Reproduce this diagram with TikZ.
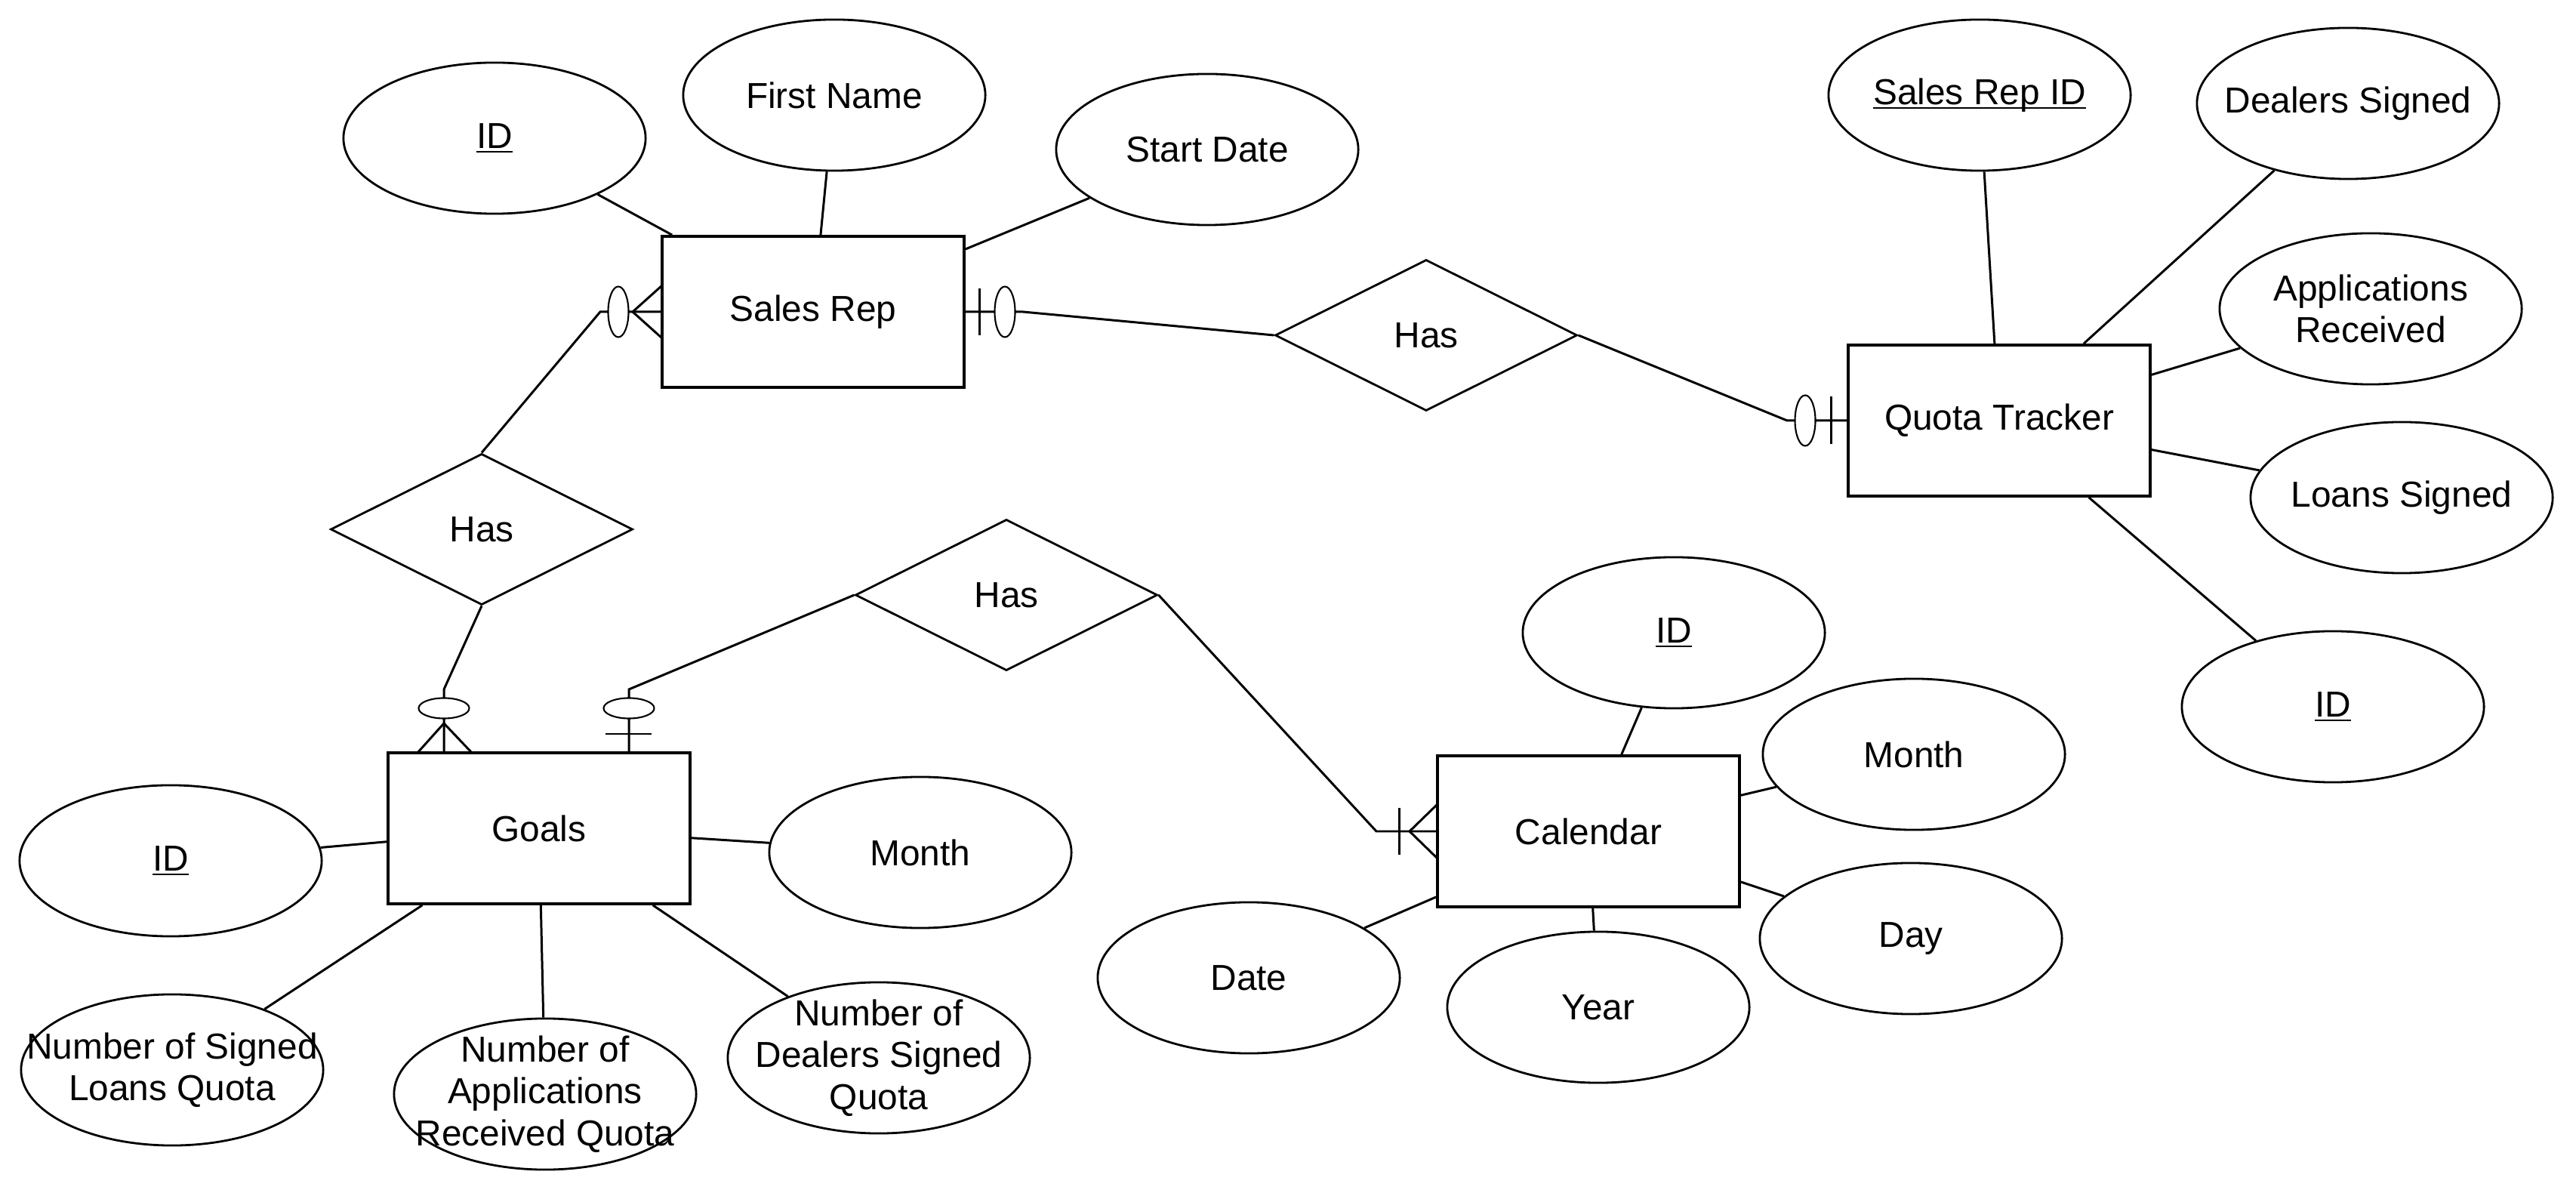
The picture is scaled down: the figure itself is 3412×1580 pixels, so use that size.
\documentclass[tikz,border=0pt]{standalone}
\usepackage{fontspec}
\setmainfont{Liberation Sans}
\usetikzlibrary{shapes.geometric}
\newcommand\ulkey[1]{{\setbox0\hbox{#1}\rlap{\rule[-1.7pt]{\wd0}{0.6pt}}\box0}}
\begin{document}
\begin{tikzpicture}[x=0.01cm,y=-0.01cm,
  font=\fontsize{13.6}{15.8}\selectfont,
  ent/.style={draw,line width=1pt,minimum width=4cm,minimum height=2cm,inner sep=0},
  attr/.style={draw,ellipse,line width=0.8pt,minimum width=4cm,minimum height=2cm,inner sep=-1cm,align=center},
  rel/.style={draw,diamond,line width=0.8pt,minimum width=4cm,minimum height=2cm,inner sep=0,aspect=2},
  conn/.style={line width=0.85pt},
  mk/.style={line width=0.85pt},
  optv/.style={draw,ellipse,fill=white,line width=0.6pt,inner sep=0,minimum width=0.27cm,minimum height=0.67cm},
  opth/.style={draw,ellipse,fill=white,line width=0.6pt,inner sep=0,minimum width=0.67cm,minimum height=0.27cm}
]
\useasboundingbox (0,0) rectangle (3412,1580);

% entities
\node[ent] (sr) at (1077,413) {Sales Rep};
\node[ent] (qt) at (2648,557) {Quota Tracker};
\node[ent] (goals) at (714,1097) {Goals};
\node[ent] (cal) at (2104,1101) {Calendar};

% relationships
\node[rel] (has1) at (1889,444) {Has};
\node[rel] (has2) at (638,701) {Has};
\node[rel] (has3) at (1333,788) {Has};

% attributes
\node[attr] (srid) at (655,183) {\ulkey{ID}};
\node[attr] (fname) at (1105,126) {First Name};
\node[attr] (sdate) at (1599,198) {Start Date};
\node[attr] (qtsrid) at (2622,126) {\ulkey{Sales Rep ID}};
\node[attr] (dsig) at (3110,137) {Dealers Signed};
\node[attr] (arec) at (3140,409) {Applications\\Received};
\node[attr] (lsig) at (3181,659) {Loans Signed};
\node[attr] (qtid) at (3090,936) {\ulkey{ID}};
\node[attr] (calid) at (2217,838) {\ulkey{ID}};
\node[attr] (cmon) at (2535,999) {Month};
\node[attr] (day) at (2531,1243) {Day};
\node[attr] (year) at (2117,1334) {Year};
\node[attr] (date) at (1654,1295) {Date};
\node[attr] (gid) at (226,1140) {\ulkey{ID}};
\node[attr] (gmon) at (1219,1129) {Month};
\node[attr] (nsl) at (228,1417) {Number of Signed\\Loans Quota};
\node[attr] (nar) at (722,1449) {Number of\\Applications\\Received Quota};
\node[attr] (nds) at (1164,1401) {Number of\\Dealers Signed\\Quota};

% attribute lines
\draw[conn] (srid) -- (sr);
\draw[conn] (fname) -- (sr);
\draw[conn] (sdate) -- (sr);
\draw[conn] (qtsrid) -- (qt);
\draw[conn] (dsig) -- (qt);
\draw[conn] (arec) -- (qt);
\draw[conn] (lsig) -- (qt);
\draw[conn] (qtid) -- (qt);
\draw[conn] (calid) -- (cal);
\draw[conn] (cmon) -- (cal);
\draw[conn] (day) -- (cal);
\draw[conn] (year) -- (cal);
\draw[conn] (date) -- (cal);
\draw[conn] (gid) -- (goals);
\draw[conn] (gmon) -- (goals);
\draw[conn] (nsl) -- (goals);
\draw[conn] (nar) -- (goals);
\draw[conn] (nds) -- (goals);

% relationship connectors
\coordinate (k1) at (795,413);
\draw[conn] (has2.north) -- (k1) -- (sr.west);
\coordinate (k2) at (1355,413);
\draw[conn] (sr.east) -- (k2) -- (has1.west);
\coordinate (k3) at (2367,557);
\draw[conn] (has1.east) -- (k3) -- (qt.west);
\coordinate (k4) at (588,913);
\draw[conn] (has2.south) -- (k4) -- (k4 |- goals.north);
\coordinate (k5) at (833,913);
\draw[conn] (has3.west) -- (k5) -- (k5 |- goals.north);
\coordinate (k6) at (1823,1101);
\draw[conn] (has3.east) -- (k6) -- (cal.west);

% markers: Sales Rep left (zero or many)
\draw[mk] (838,413) -- (877,378) (838,413) -- (877,448);
\node[optv] (mA) at (819,413) {};
% Sales Rep right (zero or one)
\draw[mk] (1297,382) -- (1297,444);
\node[optv] (mB) at (1331,413) {};
% Quota Tracker left (zero or one)
\node[optv] (mC) at (2391,557) {};
\draw[mk] (2425,525) -- (2425,588);
% Goals top left (zero or many)
\draw[mk] (588,958) -- (553,997) (588,958) -- (625,997);
\node[opth] (mD) at (588,938) {};
% Goals top right (zero or one)
\node[opth] (mE) at (833,938) {};
\draw[mk] (802,972) -- (863,972);
% Calendar left (one or many)
\draw[mk] (1853,1070) -- (1853,1132);
\draw[mk] (1867,1101) -- (1904,1065) (1867,1101) -- (1904,1137);
\end{tikzpicture}
\end{document}
